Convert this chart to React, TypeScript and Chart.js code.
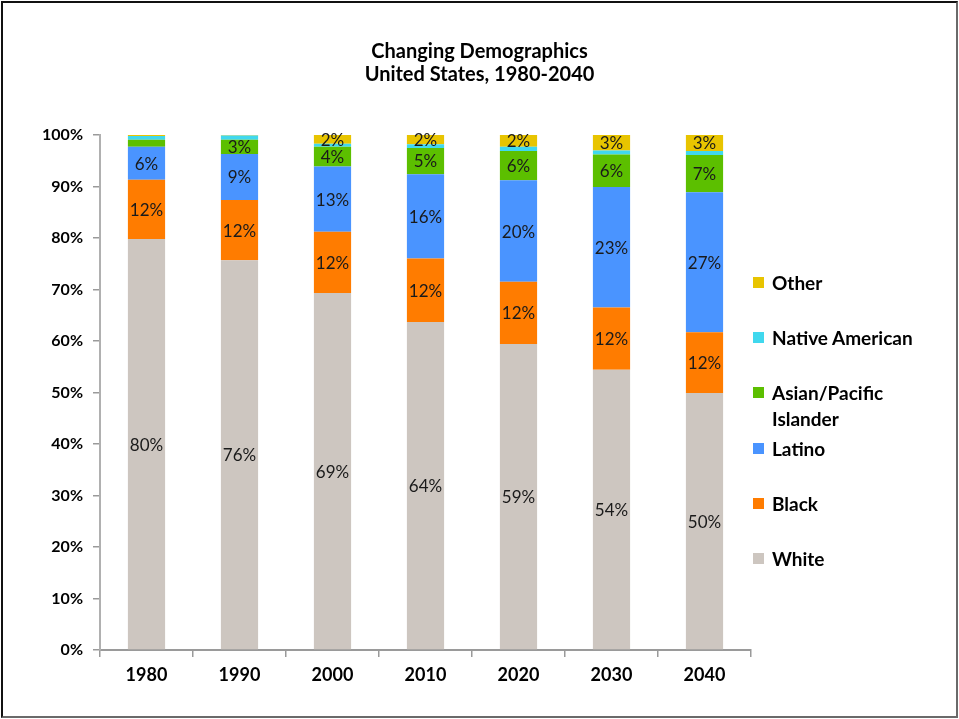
import React, { useEffect, useRef } from 'react';
import { Chart, registerables } from 'chart.js';

Chart.register(...registerables);

const years = ['1980', '1990', '2000', '2010', '2020', '2030', '2040'];
const white = [79.8, 75.7, 69.3, 63.7, 59.4, 54.4, 49.9];
const black = [11.5, 11.7, 11.9, 12.3, 12.1, 12.1, 11.8];
const latino = [6.4, 8.9, 12.7, 16.4, 19.7, 23.4, 27.2];
const asian = [1.4, 2.8, 3.8, 5.1, 5.7, 6.3, 7.2];
const nativeAm = [0.7, 0.8, 0.6, 0.7, 0.8, 0.8, 0.8];
const other = [0.2, 0.1, 1.7, 1.8, 2.3, 3.0, 3.1];

const seriesNames = ['White', 'Black', 'Latino', 'Asian/Pacific Islander', 'Native American', 'Other'];
const seriesColors = ['#cdc6c0', '#ff7c00', '#4a94ff', '#5cbf00', '#40d8ee', '#e8c400'];
const seriesData = [white, black, latino, asian, nativeAm, other];
const yTicks = [0, 10, 20, 30, 40, 50, 60, 70, 80, 90, 100];

const titleLines = ['Changing Demographics', 'United States, 1980-2040'];

const FONT = 'Lato, "Open Sans", sans-serif';

const labelPlugin = {
  id: 'segLabels',
  afterDatasetsDraw(chart: any) {
    const ctx = chart.ctx;
    ctx.save();
    ctx.font = `17px ${FONT}`;
    ctx.fillStyle = '#1a1a1a';
    ctx.textAlign = 'center';
    ctx.textBaseline = 'middle';
    chart.data.datasets.forEach((ds: any, i: number) => {
      const meta = chart.getDatasetMeta(i);
      meta.data.forEach((el: any, j: number) => {
        const v = ds.data[j];
        if (v < 1.5) return;
        const p = el.getProps(['x', 'y', 'base'], true);
        ctx.fillText(Math.round(v) + '%', p.x, (p.y + p.base) / 2 + 1);
      });
    });
    ctx.restore();
  },
};

export default function App() {
  const ref = useRef<HTMLCanvasElement | null>(null);

  useEffect(() => {
    document.body.style.margin = '0';
    if (!ref.current) return;
    const chart = new Chart(ref.current, {
      type: 'bar',
      data: {
        labels: years,
        datasets: seriesData.map((d, i) => ({
          label: seriesNames[i],
          data: d,
          backgroundColor: seriesColors[i],
          borderWidth: 0,
          barPercentage: 0.8,
          categoryPercentage: 0.5,
        })),
      },
      options: {
        animation: false,
        responsive: false,
        maintainAspectRatio: false,
        layout: { padding: { left: 0, top: 135, right: 208, bottom: 0 } },
        plugins: {
          legend: { display: false },
          title: { display: false },
          tooltip: { enabled: false },
        },
        scales: {
          x: {
            stacked: true,
            grid: { display: true, drawOnChartArea: false, drawTicks: true, tickLength: 7, color: '#9a9a9a', lineWidth: 1.5 },
            border: { display: true, color: '#9a9a9a', width: 2 },
            ticks: { color: '#000', font: { family: FONT, size: 18, weight: 'bold' }, padding: 7 },
            afterFit: (s: any) => { s.height = 69; },
          },
          y: {
            stacked: true,
            min: 0,
            max: 100,
            afterBuildTicks: (s: any) => { s.ticks = yTicks.map((v) => ({ value: v })); },
            grid: { display: true, drawOnChartArea: false, drawTicks: true, tickLength: 7, color: '#9a9a9a', lineWidth: 1.5 },
            border: { display: true, color: '#b0b0b0', width: 2 },
            ticks: {
              color: '#000',
              font: { family: FONT, size: 16, weight: 'bold' },
              padding: 10,
              callback: (v: any) => v + '%',
            },
            afterFit: (s: any) => { s.width = 100; },
          },
        },
      },
      plugins: [labelPlugin],
    });
    return () => chart.destroy();
  }, []);

  const legendCenters = [559, 504, 449, 393, 338, 283];

  return (
    <div style={{ position: 'relative', width: 959, height: 719, background: '#fff', fontFamily: FONT }}>
      <canvas ref={ref} width={959} height={719} style={{ position: 'absolute', left: 0, top: 0, width: 959, height: 719 }} />
      <div
        style={{
          position: 'absolute',
          left: 1,
          top: 1,
          width: 953,
          height: 713,
          borderStyle: 'solid',
          borderWidth: 2,
          borderColor: '#111 #6a6a6a #6a6a6a #111',
          pointerEvents: 'none',
        }}
      />
      <div
        style={{
          position: 'absolute',
          left: 0,
          width: 959,
          top: 39,
          textAlign: 'center',
          fontWeight: 'bold',
          fontSize: 20,
          lineHeight: '23px',
          color: '#000',
        }}
      >
        {titleLines.map((t) => (
          <div key={t}>{t}</div>
        ))}
      </div>
      {seriesNames.map((name, i) => {
        const lines = name === 'Asian/Pacific Islander' ? ['Asian/Pacific', 'Islander'] : [name];
        return (
          <div
            key={name}
            style={{ position: 'absolute', left: 753, top: legendCenters[i] - 13, display: 'flex', alignItems: 'flex-start' }}
          >
            <div style={{ width: 11, height: 11, background: seriesColors[i], marginTop: 7, marginRight: 8 }} />
            <div style={{ fontWeight: 'bold', fontSize: 19, lineHeight: '26px', color: '#000' }}>
              {lines.map((l) => (
                <div key={l}>{l}</div>
              ))}
            </div>
          </div>
        );
      })}
    </div>
  );
}
